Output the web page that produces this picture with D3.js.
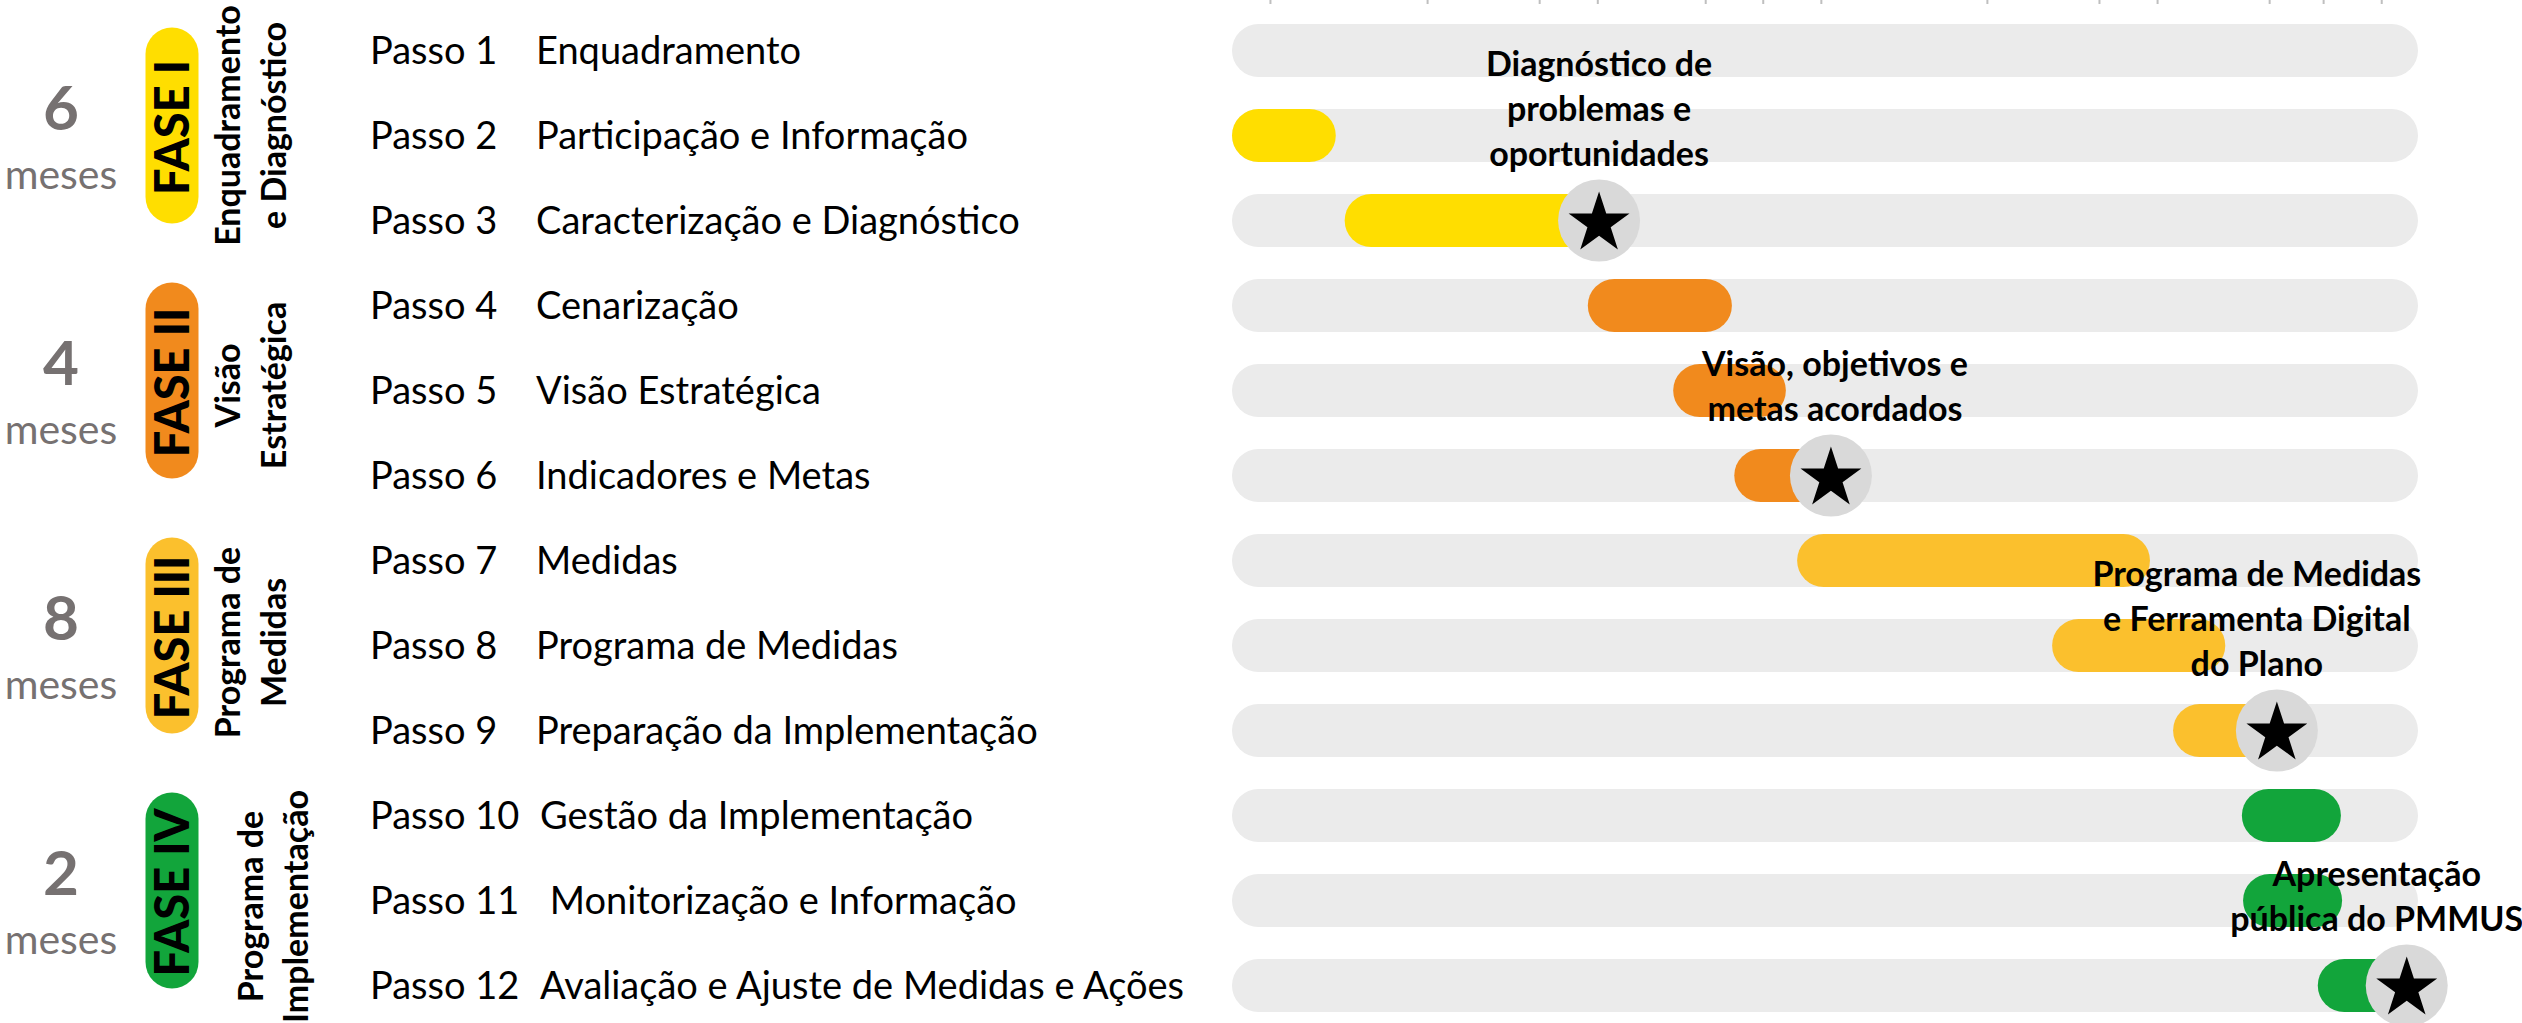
<!DOCTYPE html>
<html>
<head>
<meta charset="utf-8">
<script src="https://cdn.jsdelivr.net/npm/d3@7"></script>
<style>
	html, body { margin: 0; padding: 0; background: #fff; }
	svg { display: block; }
	text { font-family: Lato, "Open Sans", sans-serif; white-space: pre; }
</style>
</head>
<body>
<svg id="chart" width="2522" height="1023"></svg>
<script>

// Phases
const phaseNames = ["FASE I", "FASE II", "FASE III", "FASE IV"];
const phaseMonths = [6, 4, 8, 2];
const phaseTitles = [
	["Enquadramento", "e Diagnóstico"],
	["Visão", "Estratégica"],
	["Programa de", "Medidas"],
	["Programa de", "Implementação"]
];
const phaseColors = ["#FFDE00", "#F18A1D", "#FBC02D", "#12A53B"];

// Steps (start / end in months, null = no bar)
const stepNumbers = ["Passo 1", "Passo 2", "Passo 3", "Passo 4", "Passo 5", "Passo 6",
	"Passo 7", "Passo 8", "Passo 9", "Passo 10", "Passo 11", "Passo 12"];
const stepNames = ["Enquadramento", "Participação e Informação", "Caracterização e Diagnóstico",
	"Cenarização", "Visão Estratégica", "Indicadores e Metas", "Medidas", "Programa de Medidas",
	"Preparação da Implementação", "Gestão da Implementação", " Monitorização e Informação",
	"Avaliação e Ajuste de Medidas e Ações"];
const stepPhase = [0, 0, 0, 1, 1, 1, 2, 2, 2, 3, 3, 3];
const barStart = [null, 0, 1.9, 6.0, 7.44, 8.47, 9.53, 13.83, 15.87, 17.03, 17.05, 18.31];
const barEnd = [null, 1.75, 6.19, 8.43, 9.34, 10.1, 15.48, 16.75, 17.62, 18.7, 18.72, 19.81];

// Milestones (step index + label lines)
const milestoneStep = [2, 5, 8, 11];
const milestoneLabels = [
	["Diagnóstico de", "problemas e", "oportunidades"],
	["Visão, objetivos e", "metas acordados"],
	["Programa de Medidas", "e Ferramenta Digital", "do Plano"],
	["Apresentação", "pública do PMMUS"]
];

// month marks at the top edge
const topTicks = [0.64, 3.29, 5.18, 6.16, 7.98, 8.95, 9.93, 12.73, 14.62, 15.6, 17.49, 18.4, 19.38];

const totalMonths = d3.sum(phaseMonths);

const svg = d3.select("#chart");
const barH = 53, starR = 41;
const labelShift = [0, 4, -20, -30];
const titleShift = [-10, -5, -3, 6];

const x = d3.scaleLinear().domain([0, totalMonths]).range([1232, 2418]);
const y = d3.scalePoint().domain(d3.range(stepNames.length)).range([50.5, 985.5]);

// top ticks
const axis = d3.axisTop(x).tickValues(topTicks).tickSize(4).tickFormat("");
const ax = svg.append("g").attr("transform", "translate(0,4)").call(axis);
ax.select(".domain").remove();
ax.selectAll("line").attr("stroke", "#bfbfbf").attr("stroke-width", 2);

// left block: months, phase pills, titles
phaseNames.forEach((name, p) => {
	const rows = d3.range(stepPhase.length).filter(i => stepPhase[i] === p);
	const mid = (y(rows[0]) + y(rows[rows.length - 1])) / 2;
	const g = svg.append("g");

	g.append("text")
		.attr("x", 61).attr("y", mid - 6)
		.attr("text-anchor", "middle")
		.attr("font-size", 62).attr("font-weight", 700)
		.attr("fill", "#767171")
		.text(phaseMonths[p]);

	g.append("text")
		.attr("x", 61).attr("y", mid + 53)
		.attr("text-anchor", "middle")
		.attr("font-size", 41)
		.attr("fill", "#767171")
		.text("meses");

	const pillH = 196, pillW = 53, cx = 172, cy = mid - 10;
	g.append("rect")
		.attr("x", cx - pillW / 2).attr("y", cy - pillH / 2)
		.attr("width", pillW).attr("height", pillH)
		.attr("rx", pillW / 2).attr("ry", pillW / 2)
		.attr("fill", phaseColors[p]);

	g.append("text")
		.attr("transform", `translate(${cx + 17},${cy + 2}) rotate(-90)`)
		.attr("text-anchor", "middle")
		.attr("font-size", 47).attr("font-weight", 900)
		.attr("fill", "#000")
		.text(name);

	const titleX = p === 3 ? [263, 308] : [240, 286];
	phaseTitles[p].forEach((line, k) => {
		g.append("text")
			.attr("transform", `translate(${titleX[k]},${mid + titleShift[p]}) rotate(-90)`)
			.attr("text-anchor", "middle")
			.attr("font-size", 34).attr("font-weight", 700)
			.attr("fill", "#000")
			.text(line);
	});
});

// step labels
const labels = svg.append("g").attr("font-size", 38).attr("fill", "#000");
labels.selectAll(".num").data(stepNumbers).join("text")
	.attr("x", 370).attr("y", (d, i) => y(i) + 13)
	.text(d => d);
labels.selectAll(".name").data(stepNames).join("text")
	.attr("x", (d, i) => i >= 9 ? 540 : 536).attr("y", (d, i) => y(i) + 13)
	.text(d => d);

// tracks
svg.append("g").selectAll("rect").data(stepNames).join("rect")
	.attr("x", x(0)).attr("y", (d, i) => y(i) - barH / 2)
	.attr("width", x(totalMonths) - x(0)).attr("height", barH)
	.attr("rx", barH / 2).attr("ry", barH / 2)
	.attr("fill", "#EBEBEB");

// bars
const barIdx = d3.range(stepNames.length).filter(i => barStart[i] !== null);
svg.append("g").selectAll("rect").data(barIdx).join("rect")
	.attr("x", i => x(barStart[i])).attr("y", i => y(i) - barH / 2)
	.attr("width", i => x(barEnd[i]) - x(barStart[i])).attr("height", barH)
	.attr("rx", barH / 2).attr("ry", barH / 2)
	.attr("fill", i => phaseColors[stepPhase[i]]);

// milestones
const star = d3.symbol().type(d3.symbolStar).size(1150);
const ms = svg.append("g").selectAll("g").data(milestoneStep).join("g")
	.attr("transform", i => `translate(${x(barEnd[i])},${y(i)})`);
ms.append("circle").attr("r", starR).attr("fill", "#D9D9D9");
ms.append("path").attr("d", star).attr("transform", "translate(0,3)").attr("fill", "#000");

// milestone labels
milestoneStep.forEach((i, k) => {
	const lines = milestoneLabels[k];
	const t = svg.append("text")
		.attr("text-anchor", "middle")
		.attr("font-size", 34).attr("font-weight", 700)
		.attr("fill", "#000");
	lines.forEach((line, j) => {
		t.append("tspan")
			.attr("x", x(barEnd[i]) + labelShift[k])
			.attr("y", y(i) - 55 - (lines.length - 1 - j) * 45)
			.text(line);
	});
});

</script>
</body>
</html>
